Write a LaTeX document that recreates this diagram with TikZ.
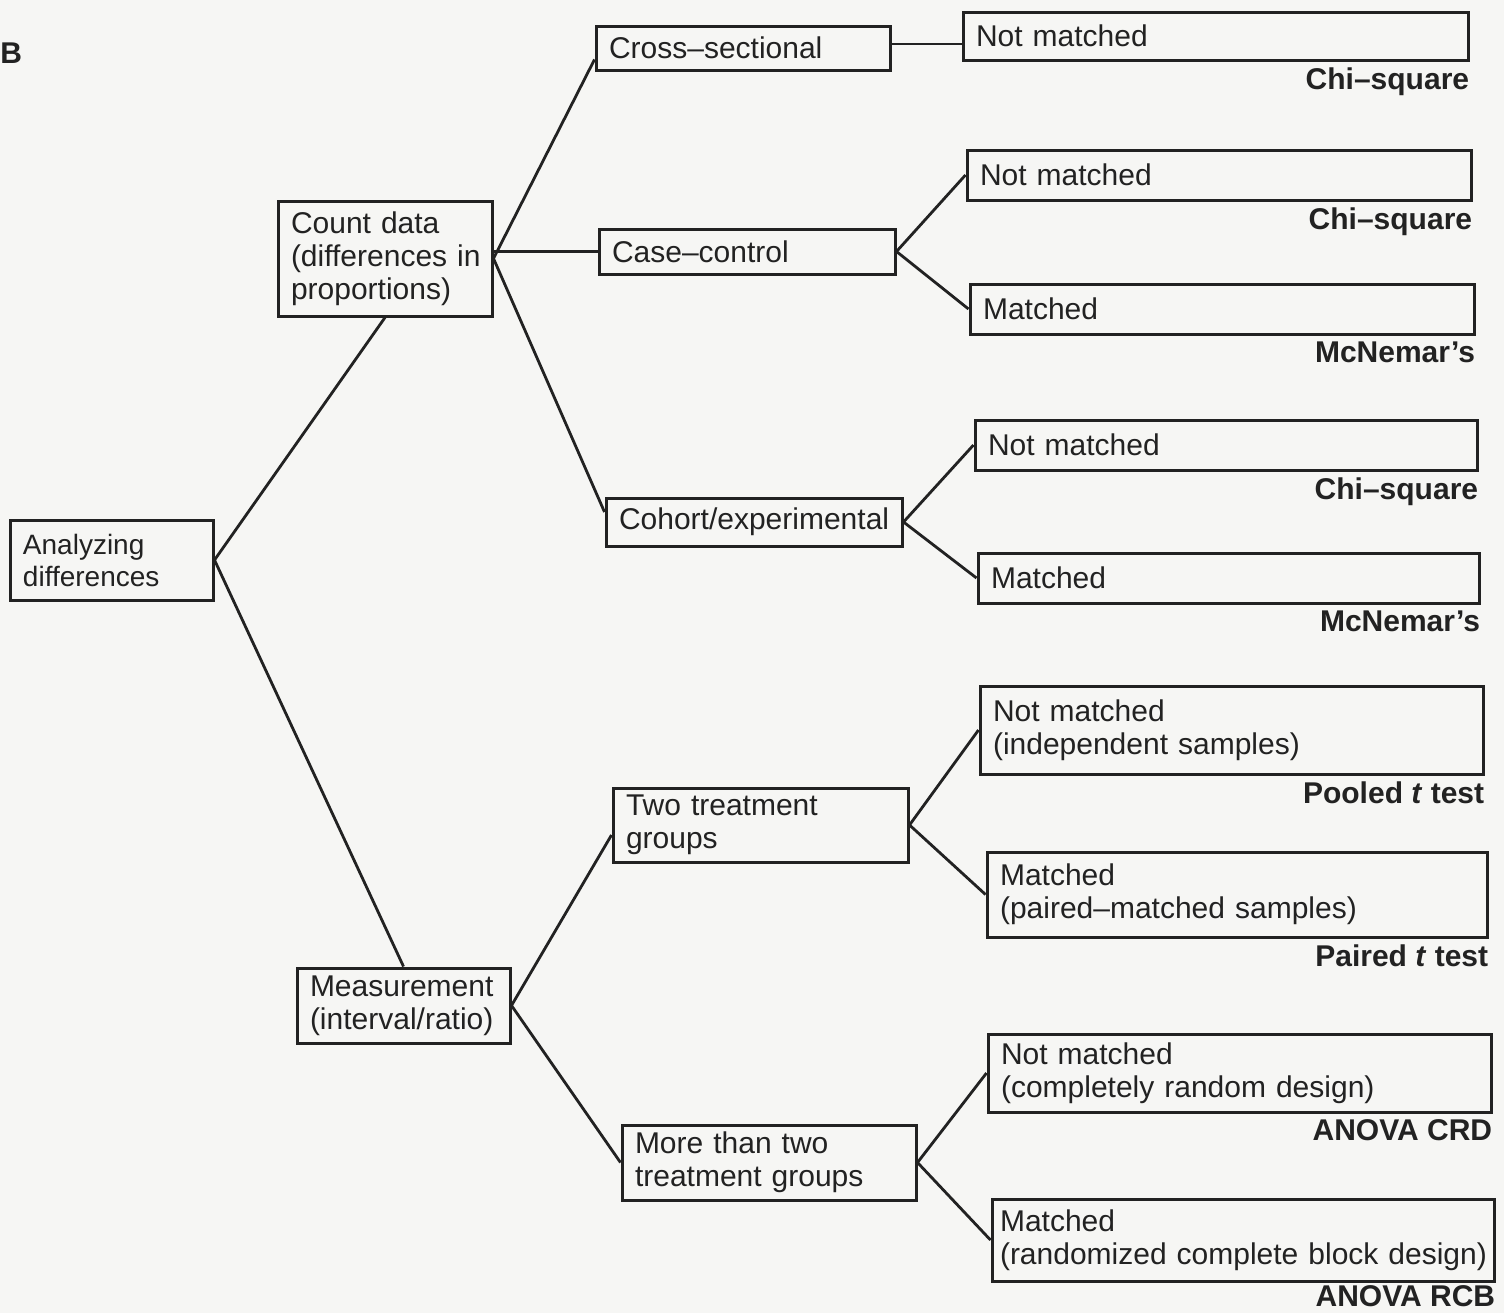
\documentclass[tikz,border=0pt]{standalone}
\usepackage{fontspec}
\setmainfont{Liberation Sans}
\usetikzlibrary{calc}
\definecolor{paper}{RGB}{246,246,244}
\definecolor{ink}{RGB}{34,34,34}
\begin{document}
\begin{tikzpicture}[x=0.5pt,y=-0.5pt,
  box/.style={draw=ink, line width=1.5pt, rectangle, inner xsep=6.5pt, inner ysep=0pt,
    align=left, text=ink, font=\fontsize{15}{16.5}\selectfont},
  link/.style={draw=ink, line width=1.4pt},
  testlabel/.style={anchor=north east, inner sep=0pt, yshift=-3pt, text=ink,
    font=\fontsize{15}{18}\selectfont\bfseries}
]
% page
\fill[paper] (0,0) rectangle (1504,1313);
\useasboundingbox (0,0) rectangle (1504,1313);

\node[anchor=west, inner sep=0pt, text=ink, font=\fontsize{15}{18}\selectfont\bfseries] (panel) at (0,53) {B};

% root and data types
\node[box, text width=88.5pt, minimum height=40pt, font=\fontsize{14}{16}\selectfont] (root) at (111.5,560) {Analyzing\\differences};
\node[box, text width=94pt, minimum height=57.5pt] (count) at (385,258.5) {Count data\\\mbox{(differences in}\\proportions)};
\node[box, text width=93.5pt, minimum height=37.5pt] (meas) at (403.5,1005.5) {Measurement\\\mbox{(interval/ratio)}};

% study designs
\node[box, text width=134pt, minimum height=22pt] (cross) at (743,48) {Cross–sectional};
\node[box, text width=135pt, minimum height=22.5pt] (case) at (747,251.5) {Case–control};
\node[box, text width=135pt, minimum height=24pt] (cohort) at (754,522) {\mbox{Cohort/experimental}};
\node[box, text width=134.5pt, minimum height=37pt] (two) at (760.5,825) {Two treatment\\groups};
\node[box, text width=134pt, minimum height=37.5pt] (more) at (769,1162.5) {More than two\\treatment groups};

% matching
\node[box, text width=239.5pt, minimum height=24pt] (nm1) at (1215.5,36) {Not matched};
\node[box, text width=239pt, minimum height=25pt] (nm2) at (1219,175) {Not matched};
\node[box, text width=239pt, minimum height=25pt] (m2) at (1222,309) {Matched};
\node[box, text width=238pt, minimum height=25pt] (nm3) at (1226,445) {Not matched};
\node[box, text width=237.5pt, minimum height=25pt] (m3) at (1228.5,578) {Matched};
\node[box, text width=238.5pt, minimum height=44pt] (nm4) at (1231.5,730) {Not matched\\\mbox{(independent samples)}};
\node[box, text width=237pt, minimum height=42.5pt] (m4) at (1237,894.5) {Matched\\\mbox{(paired–matched samples)}};
\node[box, text width=238.5pt, minimum height=39pt] (nm5) at (1239.5,1073) {Not matched\\\mbox{(completely random design)}};
\node[box, inner xsep=4pt, text width=243pt, minimum height=41pt] (m5) at (1243,1240) {Matched\\\mbox{(randomized complete block design)}};

% tests
\node[testlabel] (t1) at (nm1.south east) {Chi–square};
\node[testlabel] (t2) at (nm2.south east) {Chi–square};
\node[testlabel] (t3) at (m2.south east) {McNemar’s};
\node[testlabel] (t4) at (nm3.south east) {Chi–square};
\node[testlabel] (t5) at (m3.south east) {McNemar’s};
\node[testlabel] (t6) at (nm4.south east) {Pooled \textit{t} test};
\node[testlabel] (t7) at (m4.south east) {Paired \textit{t} test};
\node[testlabel] (t8) at (nm5.south east) {ANOVA CRD};
\node[testlabel, yshift=1.5pt] (t9) at (m5.south east) {ANOVA RCB};

% branches
\draw[link] (root.east) -- (count.south);
\draw[link] (root.east) -- (meas.north);
\draw[link] (count.east) -- ([yshift=6pt]cross.south west);
\draw[link] (count.east |- case.west) -- (case.west);
\draw[link] (count.east) -- ([yshift=5pt]cohort.west);
\draw[link] (meas.east) -- ([yshift=-5pt]two.west);
\draw[link] (meas.east) -- (more.west);
\draw[link] ([yshift=2pt]cross.east) -- ([yshift=2pt]cross.east -| nm1.west);
\draw[link] (case.east) -- (nm2.west);
\draw[link] (case.east) -- (m2.west);
\draw[link] (cohort.east) -- (nm3.west);
\draw[link] (cohort.east) -- (m3.west);
\draw[link] (two.east) -- (nm4.west);
\draw[link] (two.east) -- (m4.west);
\draw[link] (more.east) -- (nm5.west);
\draw[link] (more.east) -- (m5.west);
\end{tikzpicture}
\end{document}
